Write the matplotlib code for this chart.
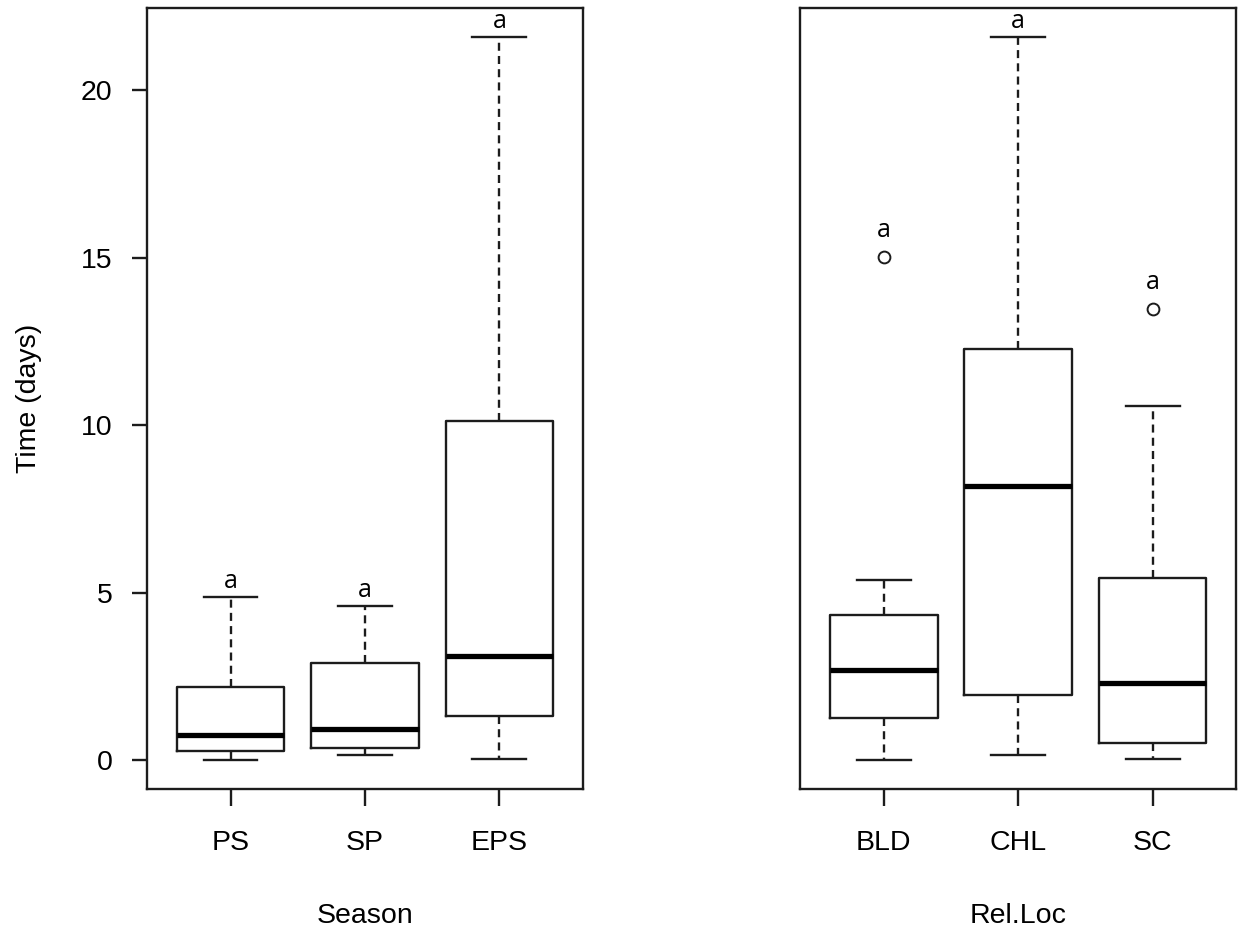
import matplotlib
matplotlib.use("Agg")
import matplotlib.pyplot as plt

# five-number summaries (days)
season = ["PS", "SP", "EPS"]
season_low = [0.0, 0.16, 0.05]
season_q1 = [0.28, 0.38, 1.34]
season_med = [0.77, 0.94, 3.13]
season_q3 = [2.19, 2.90, 10.12]
season_high = [4.89, 4.62, 21.58]
season_out = [[], [], []]
season_letter = ["a", "a", "a"]

relloc = ["BLD", "CHL", "SC"]
relloc_low = [0.0, 0.16, 0.05]
relloc_q1 = [1.27, 1.95, 0.52]
relloc_med = [2.69, 8.20, 2.31]
relloc_q3 = [4.34, 12.28, 5.44]
relloc_high = [5.39, 21.58, 10.56]
relloc_out = [[15.02], [], [13.47]]
relloc_letter = ["a", "a", "a"]

INK = "#1c1c1c"
LW = 1.7


def make_stats(names, low, q1, med, q3, high, out):
    stats = []
    for i in range(len(names)):
        stats.append(dict(label=names[i], whislo=low[i], q1=q1[i], med=med[i],
                          q3=q3[i], whishi=high[i], fliers=out[i]))
    return stats


def draw_panel(ax, stats, letters, xlabel):
    ax.bxp(stats, positions=[1, 2, 3], widths=0.8, capwidths=0.4,
           boxprops=dict(color=INK, linewidth=LW),
           medianprops=dict(color="black", linewidth=3.8, solid_capstyle="butt"),
           whiskerprops=dict(color=INK, linewidth=LW, linestyle=(0, (3.4, 2.2))),
           capprops=dict(color=INK, linewidth=LW),
           flierprops=dict(marker="o", markersize=8.5, markerfacecolor="none",
                           markeredgecolor=INK, markeredgewidth=1.4))
    # letters sit above the topmost mark of each group
    for i, s in enumerate(stats):
        top = max([s["whishi"]] + list(s["fliers"]))
        yoff = 0.4 if s["fliers"] else 0.08
        ax.text(i + 1, top + yoff, letters[i], ha="center", va="bottom",
                fontsize=18, family="Open Sans", color="black")
    ax.set_xlim(0.38, 3.62)
    ax.set_ylim(-0.86, 22.44)
    for sp in ax.spines.values():
        sp.set_color(INK)
        sp.set_linewidth(LW)
    ax.tick_params(axis="x", length=12, width=LW, color=INK, pad=17, labelsize=20.5)
    ax.set_xlabel(xlabel, fontsize=20.5, labelpad=34)


plt.rcParams["font.family"] = ["Liberation Sans", "DejaVu Sans"]

fig = plt.figure(figsize=(12.41, 9.35), dpi=100)
ax1 = fig.add_axes([0.1187, 0.1558, 0.3508, 0.8356])
ax2 = fig.add_axes([0.645, 0.1558, 0.351, 0.8356])

draw_panel(ax1, make_stats(season, season_low, season_q1, season_med, season_q3,
                           season_high, season_out), season_letter, "Season")
draw_panel(ax2, make_stats(relloc, relloc_low, relloc_q1, relloc_med, relloc_q3,
                           relloc_high, relloc_out), relloc_letter, "Rel.Loc")

ax1.set_yticks([0, 5, 10, 15, 20])
ax1.tick_params(axis="y", length=11, width=LW, color=INK, pad=14, labelsize=20.5)
ax1.set_ylabel("Time (days)", fontsize=20.5, labelpad=28)
ax2.set_yticks([])

fig.savefig("out.png", dpi=100)
